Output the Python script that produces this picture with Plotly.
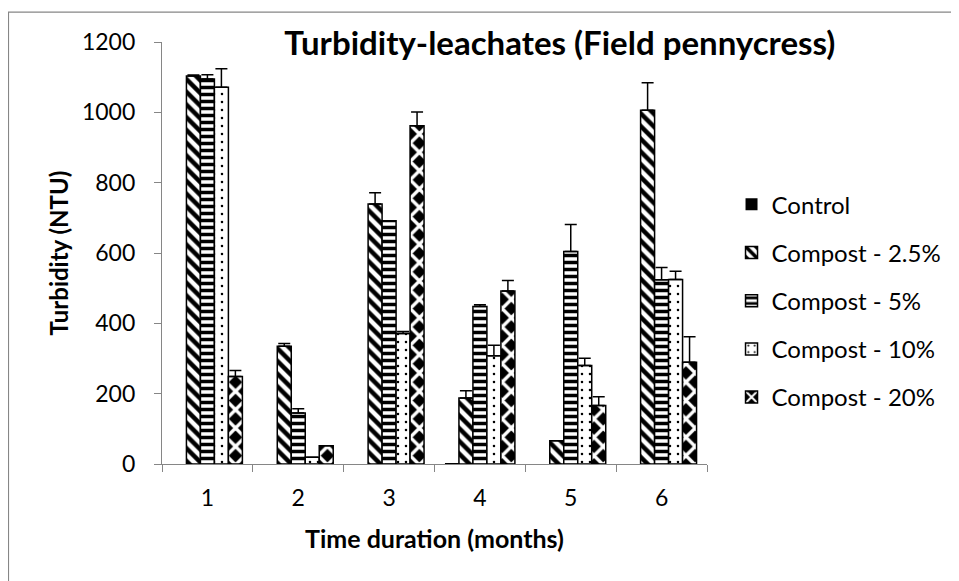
import plotly.graph_objects as go

months = ["1", "2", "3", "4", "5", "6"]
series_names = ["Control", "Compost - 2.5%", "Compost - 5%", "Compost - 10%", "Compost - 20%"]
control = [0, 0, 0, 2, 0, 0]
control_err = [0, 0, 0, 0, 0, 0]
c25 = [1103, 335, 739, 188, 66, 1006]
c25_err = [3, 8, 32, 20, 0, 78]
c5 = [1095, 145, 692, 448, 604, 524]
c5_err = [12, 12, 0, 5, 77, 35]
c10 = [1071, 19, 371, 308, 280, 525]
c10_err = [53, 0, 6, 30, 21, 23]
c20 = [249, 52, 962, 492, 166, 289]
c20_err = [17, 0, 39, 30, 25, 73]

values = [control, c25, c5, c10, c20]
errors = [control_err, c25_err, c5_err, c10_err, c20_err]
patterns = [
    dict(shape=""),
    dict(shape="\\", fgcolor="black", bgcolor="white", size=9, solidity=0.5, fillmode="replace"),
    dict(shape="-", fgcolor="black", bgcolor="white", size=7, solidity=0.5, fillmode="replace"),
    dict(shape=".", fgcolor="black", bgcolor="white", size=8, solidity=0.08, fillmode="replace"),
    dict(shape="x", fgcolor="white", bgcolor="black", size=13, solidity=0.45, fillmode="replace"),
]
colors = ["black", "white", "white", "white", "black"]
line_widths = [0, 1.5, 1.5, 1.5, 1.5]

fig = go.Figure()
for i, name in enumerate(series_names):
    fig.add_trace(go.Bar(
        x=months, y=values[i], name=name,
        marker=dict(color=colors[i], line=dict(color="black", width=line_widths[i]), pattern=patterns[i]),
        error_y=dict(type="data", array=errors[i], arrayminus=[0]*6, symmetric=False,
                     color="black", thickness=1.5, width=6, visible=(i > 0)),
        legendgroup=name,
    ))

font = "Lato, 'Open Sans', sans-serif"
fig.update_layout(
    width=951, height=573,
    margin=dict(l=154, r=252, t=34, b=117),
    paper_bgcolor="white", plot_bgcolor="white",
    barmode="group", bargap=0.23, bargroupgap=0,
    font=dict(family=font, color="black", size=23),
    title=dict(text="<b>Turbidity-leachates (Field pennycress)</b>", font=dict(size=33, family=font, color="black"),
               x=0.73, xanchor="center", xref="paper", y=0.939, yanchor="middle"),
    showlegend=True,
    legend=dict(x=1.045, xanchor="left", y=0.387, yanchor="middle", font=dict(size=24, family=font),
                tracegroupgap=14, itemwidth=30, bgcolor="rgba(0,0,0,0)"),
    xaxis=dict(type="category", showline=True, linecolor="#868686", linewidth=1.2,
               ticks="outside", tickson="boundaries", ticklen=7, tickcolor="#868686",
               tickfont=dict(size=23), showgrid=False, ticklabelstandoff=13,
               title=dict(text="<b>Time duration (months)</b>", font=dict(size=25), standoff=20)),
    yaxis=dict(range=[0, 1200], dtick=200, showline=True, linecolor="#868686", linewidth=1.2,
               ticks="outside", ticklen=7, tickcolor="#868686", showgrid=False,
               tickfont=dict(size=23), zeroline=False, ticklabelstandoff=14,
               title=dict(text="<b>Turbidity (NTU)</b>", font=dict(size=24), standoff=6)),
    shapes=[dict(type="rect", xref="paper", yref="paper", x0=-0.2817, x1=1.5, y0=-0.4, y1=1.071,
                 line=dict(color="#868686", width=1.2), fillcolor="rgba(0,0,0,0)", layer="below")],
)
fig.write_html("out.html")
